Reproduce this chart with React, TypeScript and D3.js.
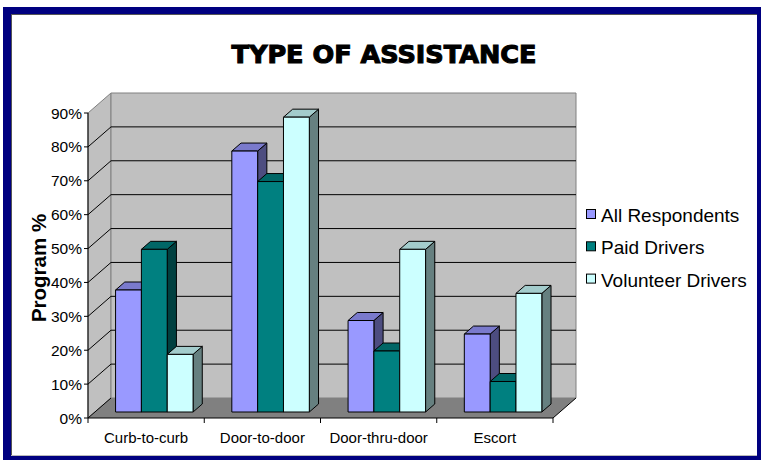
import React from "react";
import * as d3 from "d3";

const categories = ["Curb-to-curb", "Door-to-door", "Door-thru-door", "Escort"];
const seriesNames = ["All Respondents", "Paid Drivers", "Volunteer Drivers"];
const allRespondents = [36, 77, 27, 23];
const paidDrivers = [48, 68, 18, 9];
const volunteerDrivers = [17, 87, 48, 35];
const yTicks = [0, 10, 20, 30, 40, 50, 60, 70, 80, 90];
const title = "TYPE OF ASSISTANCE";
const yTitle = "Program %";

const seriesValues = [allRespondents, paidDrivers, volunteerDrivers];
const frontColors = ["#9999FF", "#008080", "#CCFFFF"];
const topColors = ["#7A7ACC", "#006666", "#A3CCCC"];
const sideColors = ["#4D4D80", "#004040", "#668080"];

const W = 761, H = 460;
const X0 = 88, X1 = 553, Y0 = 418, YT = 113;
const DX = 23, DY = 20;

export default function App() {
  const x = d3.scaleBand<string>().domain(categories).range([X0, X1]).padding(0);
  const y = d3.scaleLinear().domain([0, 90]).range([Y0, YT]);
  const bw = x.bandwidth() / 4.5;
  const xs = d3.scaleBand<string>().domain(seriesNames).range([0, 3 * bw]);
  const fF = 0.3, fD = 0.4;
  const fdx = DX * fF, fdy = DY * fF, ddx = DX * fD, ddy = DY * fD;

  const bars: React.ReactNode[] = [];
  categories.forEach((c, ci) => {
    seriesNames.forEach((s, si) => {
      const v = seriesValues[si][ci];
      const left = (x(c) as number) + 0.8 * bw + (xs(s) as number) + fdx;
      const right = left + bw;
      const top = y(v) - fdy;
      const bottom = Y0 - fdy;
      bars.push(
        <g key={c + s} stroke="#000" strokeWidth={1} strokeLinejoin="round">
          <polygon
            points={`${right},${top} ${right + ddx},${top - ddy} ${right + ddx},${bottom - ddy} ${right},${bottom}`}
            fill={sideColors[si]}
          />
          <polygon
            points={`${left},${top} ${left + ddx},${top - ddy} ${right + ddx},${top - ddy} ${right},${top}`}
            fill={topColors[si]}
          />
          <rect x={left} y={top} width={bw} height={bottom - top} fill={frontColors[si]} />
        </g>
      );
    });
  });

  const bx0 = X0 + DX, bx1 = X1 + DX, by0 = Y0 - DY, byT = YT - DY;

  return (
    <svg width={W} height={H} style={{ position: "absolute", left: 0, top: 0 }} fontFamily="'Liberation Sans', Arial, sans-serif">
      <rect x={0} y={0} width={W} height={H} fill="#fff" />
      <rect x={3} y={7} width={W} height={H} fill="#000080" />
      <rect x={11} y={14} width={746} height={442} fill="#fff" />
      <line x1={11} y1={14.5} x2={757} y2={14.5} stroke="#555" strokeWidth={1} />
      <line x1={11.5} y1={14} x2={11.5} y2={456} stroke="#555" strokeWidth={1} />
      <line x1={11} y1={455.5} x2={757} y2={455.5} stroke="#bbb" strokeWidth={1} />

      <text
        x={384}
        y={63}
        textAnchor="middle"
        fontFamily="'DejaVu Sans', sans-serif"
        fontWeight={900}
        fontSize={25}
        textLength={305}
        lengthAdjust="spacingAndGlyphs"
        stroke="#000"
        strokeWidth={1.1}
        fill="#000"
      >
        {title}
      </text>

      {/* walls */}
      <polygon points={`${X0},${Y0} ${X0},${YT} ${bx0},${byT} ${bx0},${by0}`} fill="#C0C0C0" stroke="#808080" strokeWidth={1} />
      <polygon points={`${bx0},${byT} ${bx1},${byT} ${bx1},${by0} ${bx0},${by0}`} fill="#C0C0C0" stroke="#808080" strokeWidth={1} />
      <polygon points={`${X0},${Y0} ${X1},${Y0} ${bx1},${by0} ${bx0},${by0}`} fill="#808080" />

      {/* gridlines */}
      {yTicks.filter((t) => t > 0 && t < 90).map((t) => (
        <g key={t} stroke="#000" strokeWidth={1}>
          <line x1={bx0} y1={y(t) - DY} x2={bx1} y2={y(t) - DY} />
          <line x1={X0} y1={y(t)} x2={bx0} y2={y(t) - DY} />
        </g>
      ))}
      <line x1={X0} y1={Y0} x2={bx0} y2={by0} stroke="#000" strokeWidth={1} />
      <line x1={X1} y1={Y0} x2={bx1} y2={by0} stroke="#000" strokeWidth={1} />

      {/* y axis */}
      <line x1={X0} y1={YT} x2={X0} y2={Y0} stroke="#000" strokeWidth={1} />
      {yTicks.map((t) => (
        <g key={t}>
          <line x1={X0 - 4} y1={y(t)} x2={X0} y2={y(t)} stroke="#000" strokeWidth={1} />
          <text x={82} y={y(t) + 5.5} textAnchor="end" fontSize={15.5} fill="#000">
            {t}%
          </text>
        </g>
      ))}

      {/* x axis */}
      <line x1={X0} y1={Y0} x2={X1} y2={Y0} stroke="#000" strokeWidth={1} />
      {[...categories.map((c) => x(c) as number), X1].map((px, i) => (
        <line key={i} x1={px} y1={Y0} x2={px} y2={Y0 + 5} stroke="#000" strokeWidth={1} />
      ))}
      {categories.map((c) => (
        <text key={c} x={(x(c) as number) + x.bandwidth() / 2} y={443} textAnchor="middle" fontSize={15} fill="#000">
          {c}
        </text>
      ))}

      {bars}

      <text
        transform={`translate(46, 268) rotate(-90)`}
        textAnchor="middle"
        fontSize={20.5}
        fontWeight="bold"
        fill="#000"
      >
        {yTitle}
      </text>

      {/* legend */}
      {seriesNames.map((s, i) => {
        const base = 222 + i * 32.3;
        return (
          <g key={s}>
            <rect x={586.5} y={base - 12.5} width={9} height={9} fill={frontColors[i]} stroke="#000" strokeWidth={1} />
            <text x={601} y={base} fontSize={19} fill="#000">
              {s}
            </text>
          </g>
        );
      })}
    </svg>
  );
}
